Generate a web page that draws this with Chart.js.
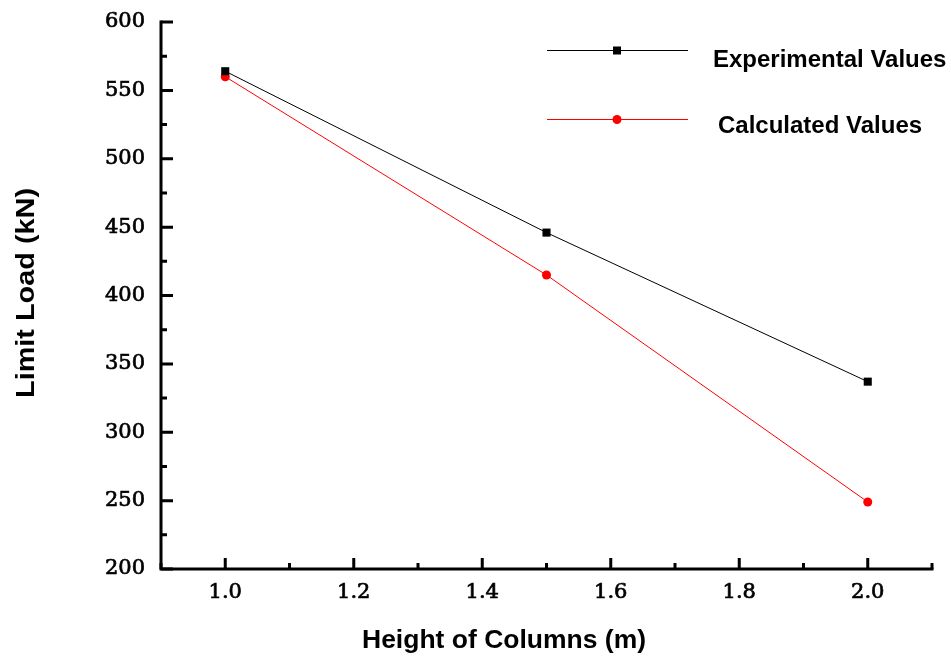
<!DOCTYPE html>
<html>
<head>
<meta charset="utf-8">
<script src="https://cdn.jsdelivr.net/npm/chart.js@4.4.1/dist/chart.umd.min.js"></script>
<style>
  html, body { margin: 0; padding: 0; background: #ffffff; }
  #wrap { width: 951px; height: 656px; position: relative; }
</style>
</head>
<body>
<div id="wrap"><canvas id="c" width="951" height="656"></canvas></div>
<script>
// ---- data ----
const heights = [1.0, 1.5, 2.0];
const experimentalValues = [564, 446, 337];
const calculatedValues = [560, 415, 249];
const seriesLabels = ["Experimental Values", "Calculated Values"];
const xTickValues = [1.0, 1.2, 1.4, 1.6, 1.8, 2.0];
const xMinorTicks = [0.9, 1.1, 1.3, 1.5, 1.7, 1.9, 2.1];
const yTickValues = [200, 250, 300, 350, 400, 450, 500, 550, 600];
const yMinorTicks = [225, 275, 325, 375, 425, 475, 525, 575];
const xTitle = "Height of Columns (m)";
const yTitle = "Limit Load (kN)";

const toXY = (xs, ys) => xs.map((x, i) => ({ x: x, y: ys[i] }));

const axesPlugin = {
  id: 'customAxes',
  afterDraw(chart) {
    const ctx = chart.ctx;
    const ca = chart.chartArea;
    const xs = chart.scales.x, ys = chart.scales.y;
    ctx.save();
    ctx.strokeStyle = '#000';
    ctx.lineWidth = 3;
    ctx.lineCap = 'butt';
    // axis lines
    ctx.beginPath();
    ctx.moveTo(ca.left, ca.top - 1.5);
    ctx.lineTo(ca.left, ca.bottom);
    ctx.lineTo(ca.right + 1.5, ca.bottom);
    ctx.stroke();
    // y ticks (inward)
    ctx.beginPath();
    yTickValues.forEach(v => {
      const p = ys.getPixelForValue(v);
      ctx.moveTo(ca.left, p); ctx.lineTo(ca.left + 12, p);
    });
    yMinorTicks.forEach(v => {
      const p = ys.getPixelForValue(v);
      ctx.moveTo(ca.left, p); ctx.lineTo(ca.left + 6, p);
    });
    // x ticks (inward)
    xTickValues.forEach(v => {
      const p = xs.getPixelForValue(v);
      ctx.moveTo(p, ca.bottom); ctx.lineTo(p, ca.bottom - 11);
    });
    xMinorTicks.forEach(v => {
      const p = xs.getPixelForValue(v);
      ctx.moveTo(p, ca.bottom); ctx.lineTo(p, ca.bottom - 6);
    });
    ctx.stroke();

    // axis titles
    ctx.fillStyle = '#000';
    ctx.font = 'bold 25px "Liberation Sans", Arial, sans-serif';
    ctx.textBaseline = 'alphabetic';
    ctx.textAlign = 'left';
    let w = ctx.measureText(xTitle).width;
    ctx.save();
    ctx.translate(362, 648);
    ctx.scale(284 / w, 1);
    ctx.fillText(xTitle, 0, 0);
    ctx.restore();

    ctx.font = 'bold 25px "Liberation Sans", Arial, sans-serif';
    w = ctx.measureText(yTitle).width;
    ctx.save();
    ctx.translate(34, 398);
    ctx.rotate(-Math.PI / 2);
    ctx.scale(210 / w, 1);
    ctx.fillText(yTitle, 0, 0);
    ctx.restore();

    // legend
    const legendRows = [
      { y: 50, textX: 713, baseline: 67 },
      { y: 119, textX: 718, baseline: 133 }
    ];
    chart.data.datasets.forEach((ds, i) => {
      const r = legendRows[i];
      ctx.strokeStyle = ds.borderColor;
      ctx.lineWidth = 1;
      ctx.beginPath();
      ctx.moveTo(547, r.y + 0.5); ctx.lineTo(688, r.y + 0.5);
      ctx.stroke();
      ctx.fillStyle = ds.pointBackgroundColor;
      if (ds.pointStyle === 'rect') {
        ctx.fillRect(617 - 4, r.y + 0.5 - 4, 8, 8);
      } else {
        ctx.beginPath();
        ctx.arc(617, r.y + 0.5, 4.5, 0, Math.PI * 2);
        ctx.fill();
      }
      ctx.fillStyle = '#000';
      ctx.font = 'bold 24px "Liberation Sans", Arial, sans-serif';
      ctx.fillText(ds.label, r.textX, r.baseline);
    });
    ctx.restore();
  }
};

new Chart(document.getElementById('c'), {
  type: 'line',
  data: {
    datasets: [
      {
        label: seriesLabels[0],
        data: toXY(heights, experimentalValues),
        borderColor: '#000000',
        backgroundColor: '#000000',
        pointBackgroundColor: '#000000',
        pointBorderColor: '#000000',
        borderWidth: 1,
        pointStyle: 'rect',
        pointRadius: 5.7,
        pointBorderWidth: 0,
        tension: 0
      },
      {
        label: seriesLabels[1],
        data: toXY(heights, calculatedValues),
        borderColor: '#ff0000',
        backgroundColor: '#ff0000',
        pointBackgroundColor: '#ff0000',
        pointBorderColor: '#ff0000',
        borderWidth: 1,
        pointStyle: 'circle',
        pointRadius: 4.5,
        pointBorderWidth: 0,
        tension: 0
      }
    ]
  },
  options: {
    responsive: false,
    animation: false,
    devicePixelRatio: 1,
    layout: { padding: { top: 22, right: 19, left: 0, bottom: 0 } },
    plugins: { legend: { display: false }, tooltip: { enabled: false } },
    scales: {
      x: {
        type: 'linear',
        min: 0.9, max: 2.1,
        grid: { display: false, drawTicks: false },
        border: { display: false },
        afterBuildTicks: (s) => { s.ticks = xTickValues.map(v => ({ value: v })); },
        afterFit: (s) => { s.height = 87; s.paddingLeft = 0; s.paddingRight = 0; },
        ticks: {
          padding: 11,
          color: '#000',
          textStrokeColor: '#000',
          textStrokeWidth: 0.7,
          font: { family: '"DejaVu Serif", serif', size: 21 },
          callback: (v) => Number(v).toFixed(1)
        }
      },
      y: {
        type: 'linear',
        min: 200, max: 600,
        grid: { display: false, drawTicks: false },
        border: { display: false },
        afterBuildTicks: (s) => { s.ticks = yTickValues.map(v => ({ value: v })); },
        afterFit: (s) => { s.width = 161; s.paddingTop = 0; s.paddingBottom = 0; },
        ticks: {
          padding: 16,
          color: '#000',
          textStrokeColor: '#000',
          textStrokeWidth: 0.7,
          font: { family: '"DejaVu Serif", serif', size: 21 },
          callback: (v) => String(v)
        }
      }
    }
  },
  plugins: [axesPlugin]
});
</script>
</body>
</html>
